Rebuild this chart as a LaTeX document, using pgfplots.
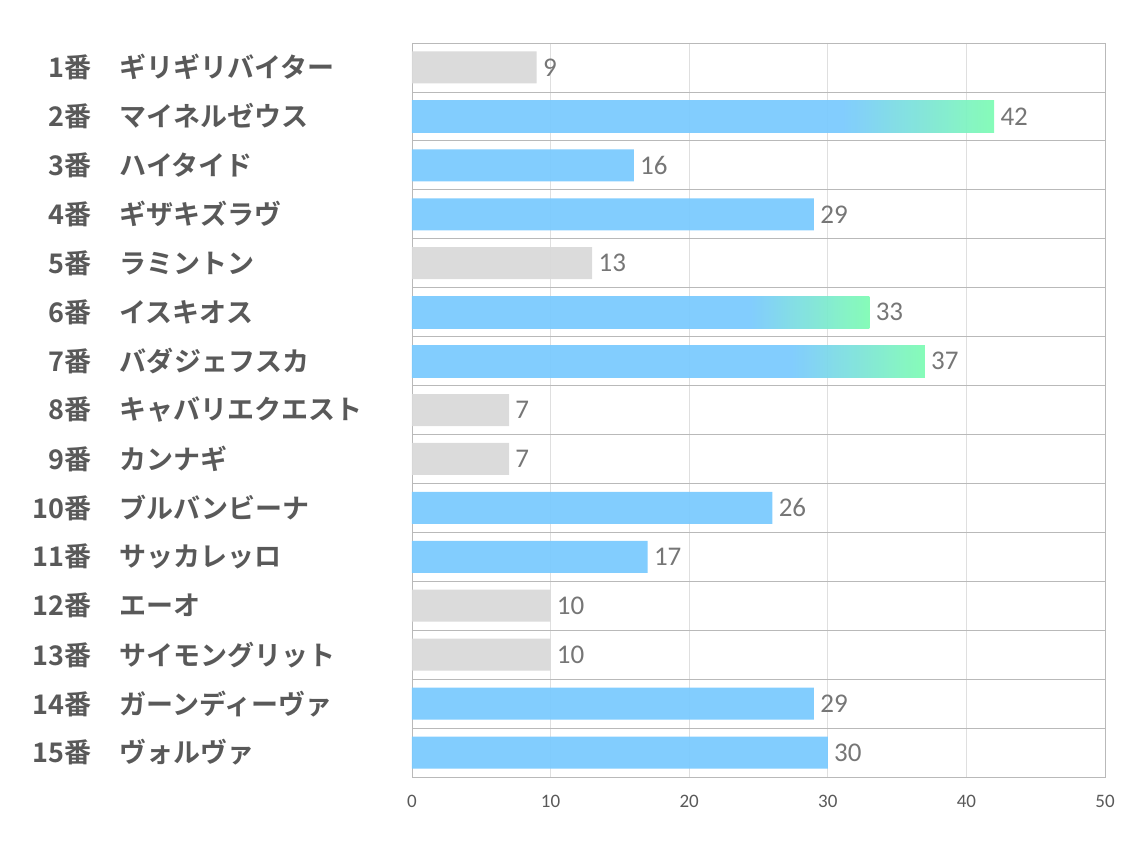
\documentclass[border=0pt]{standalone}
\usepackage{fontspec}
\setmainfont{Carlito}
\newfontfamily\jp{Noto Sans CJK JP Bold}
\usepackage{pgfplots}
\pgfplotsset{compat=1.18}
\definecolor{barblue}{HTML}{7BCAFE}
\definecolor{bargreen}{HTML}{80FCB4}
\definecolor{bargray}{HTML}{D9D9D9}
\definecolor{labgray}{HTML}{595959}
\definecolor{valgray}{HTML}{767676}
\pgfdeclarehorizontalshading{bluegreen}{100bp}{color(0bp)=(barblue); color(62bp)=(barblue); color(75bp)=(bargreen); color(100bp)=(bargreen)}
\newcommand{\lab}[2]{\makebox[28pt][r]{#1番}\hspace{14pt}\makebox[130pt][l]{#2}}

\begin{document}
\begin{tikzpicture}
\useasboundingbox (-206pt,-36.5pt) rectangle (361pt,388.5pt);
\begin{axis}[
    scale only axis,
    width=346.5pt, height=367pt,
    xmin=0, xmax=50, ymin=0.5, ymax=15.5,
    y dir=reverse,
    xbar, bar width=16pt, bar shift=0pt,
    /pgf/number format/assume math mode=true,
    xtick={0,10,20,30,40,50},
    ytick={1,...,15},
    minor ytick={1.5,2.5,...,14.5},
    yticklabels={\lab{1}{ギリギリバイター}, \lab{2}{マイネルゼウス}, \lab{3}{ハイタイド},
        \lab{4}{ギザキズラヴ}, \lab{5}{ラミントン}, \lab{6}{イスキオス},
        \lab{7}{バダジェフスカ}, \lab{8}{キャバリエクエスト}, \lab{9}{カンナギ},
        \lab{10}{ブルバンビーナ}, \lab{11}{サッカレッロ}, \lab{12}{エーオ},
        \lab{13}{サイモングリット}, \lab{14}{ガーンディーヴァ}, \lab{15}{ヴォルヴァ}},
    yticklabel style={font=\jp\fontsize{13.5}{14}\selectfont, text=labgray, anchor=east, inner sep=0pt, xshift=-16pt},
    xticklabel style={font=\fontsize{9.5}{10}\selectfont, text=labgray, inner sep=0pt, yshift=-9pt},
    xmajorgrids, yminorgrids,
    major grid style={draw=gray!25},
    minor grid style={draw=gray!55},
    axis line style={draw=gray!55},
    major tick length=0pt, minor tick length=0pt,
    tick style={draw=none},
    nodes near coords,
    nodes near coords style={font=\fontsize{13.5}{14}\selectfont, text=valgray, anchor=west, inner sep=3pt},
    every axis plot/.append style={draw=none, fill opacity=0.95, text opacity=1},
]
\addplot[fill=bargray] coordinates {(9,1) (13,5) (7,8) (7,9) (10,12) (10,13)};
\addplot[fill=barblue] coordinates {(16,3) (29,4) (26,10) (17,11) (29,14) (30,15)};
\addplot[shading=bluegreen] coordinates {(42,2)};
\addplot[shading=bluegreen] coordinates {(33,6)};
\addplot[shading=bluegreen] coordinates {(37,7)};
\end{axis}
\end{tikzpicture}
\end{document}
